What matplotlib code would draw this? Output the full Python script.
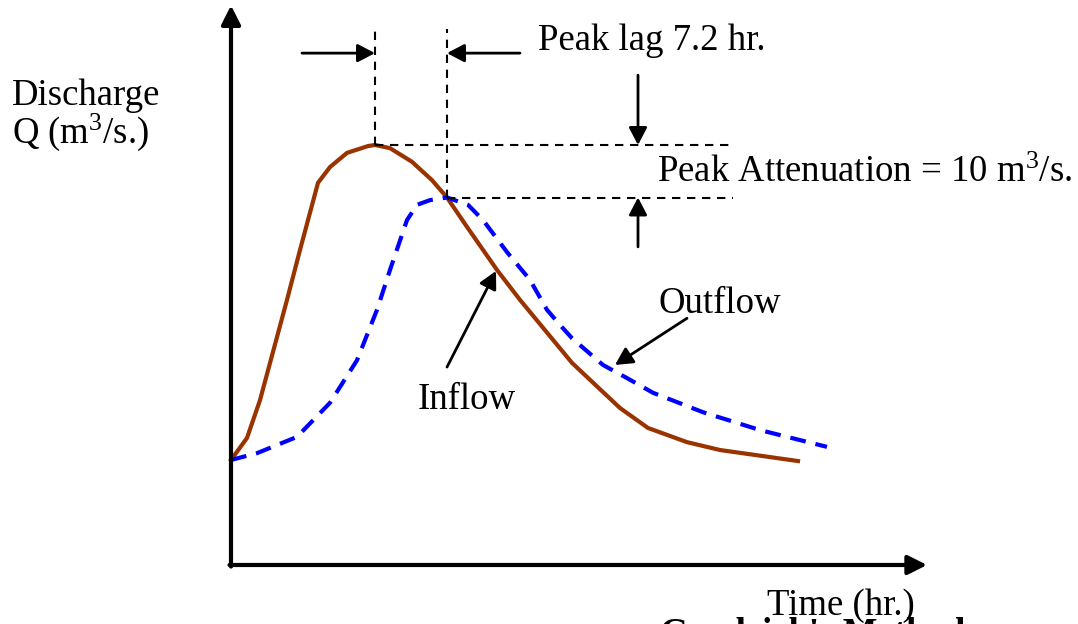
import numpy as np
import matplotlib
matplotlib.use("Agg")
import matplotlib.pyplot as plt

plt.rcParams["font.family"] = ["Liberation Serif", "DejaVu Serif"]
plt.rcParams["mathtext.fontset"] = "custom"
plt.rcParams["mathtext.rm"] = "Liberation Serif"
plt.rcParams["mathtext.it"] = "Liberation Serif:italic"

# hydrographs: time in hr, discharge in m3/s
inflow_t = [0, 1.6, 2.9, 4.2, 5.6, 6.9, 8.7, 9.9, 11.6, 13.7, 14.4, 15.9, 18.1,
            20.1, 21.6, 23.6, 26.6, 28.9, 34.1, 38.9, 41.7, 45.6, 48.9, 56.7]
inflow_q = [20, 24.2, 31.4, 40.6, 50.5, 60.0, 72.8, 75.8, 78.5, 79.8, 80, 79.4, 76.8,
            73.3, 70, 64.4, 56.2, 50.5, 38.5, 29.9, 26.1, 23.4, 21.9, 19.8]

outflow_t = [0, 2.6, 6.6, 9.9, 12.6, 14.6, 15.9, 17.6, 18.6, 19.9, 21.6, 23.7, 25.2,
             27.6, 29.9, 31.6, 33.1, 34.1, 37.2, 39.6, 42.2, 47.2, 52.9, 59.6]
outflow_q = [20, 21.3, 24.4, 30.9, 39.0, 48.6, 56.2, 65.7, 68.6, 69.5, 70, 68.6, 65.7,
             59.6, 54.3, 48.6, 45.3, 43.2, 38.1, 35.6, 32.8, 29.1, 25.7, 22.5]

# peaks
i_in = int(np.argmax(inflow_q))
i_out = int(np.argmax(outflow_q))
tp_in, qp_in = inflow_t[i_in], inflow_q[i_in]
tp_out, qp_out = outflow_t[i_out], outflow_q[i_out]
lag = tp_out - tp_in
atten = qp_in - qp_out

FS = 26.5
brown = "#993300"
blue = "#0000ff"

fig = plt.figure(figsize=[10.78, 6.24], dpi=100)
ax = fig.add_axes([0, 0, 1, 1])
ax.set_xlim(-23.1, 84.7)
ax.set_ylim(-11.24, 107.62)
ax.axis("off")

def arrow(tip, tail, lw=2.0, hl=10.5, hw=5.5):
    ax.annotate("", xy=tip, xytext=tail,
                arrowprops=dict(arrowstyle=f"-|>,head_length={hl},head_width={hw}",
                                mutation_scale=1, lw=lw, color="black",
                                shrinkA=0, shrinkB=0))

# axes with arrow heads
arrow((0, 106.6), (0, -0.3), lw=3, hl=11.5, hw=5.8)
arrow((69.6, 0), (-0.15, 0), lw=3, hl=11.5, hw=5.8)

# curves
ax.plot(inflow_t, inflow_q, color=brown, lw=3, solid_joinstyle="miter")
ax.plot(outflow_t, outflow_q, color=blue, lw=3, linestyle=(0, (3.8, 2.4)),
        dash_capstyle="butt")

# guide lines at the peaks
guide = dict(color="black", lw=1.5, linestyle=(0, (4, 3.2)))
ax.plot([tp_in, tp_in], [qp_in, 101.9], **guide)
ax.plot([tp_out, tp_out], [qp_out, 102.1], **guide)
ax.plot([tp_in, 50.2], [qp_in, qp_in], **guide)
ax.plot([tp_out, 50.2], [qp_out, qp_out], **guide)

# lag arrows
arrow((tp_in, 97.5), (7.1, 97.5))
arrow((tp_out, 97.5), (28.9, 97.5))
ax.text(30.7, 98.1, f"Peak lag {lag:.1f} hr.", fontsize=FS, va="baseline")

# attenuation arrows
arrow((40.7, qp_in), (40.7, 93.3))
arrow((40.7, qp_out), (40.7, 60.6))
ax.text(42.6, 72.95, f"Peak Attenuation = {atten:.0f} m$^3$/s.", fontsize=FS,
        va="baseline")

# curve labels
arrow((26.5, 56.0), (21.6, 37.7))
ax.text(18.7, 29.7, "Inflow", fontsize=FS, va="baseline")
arrow((38.4, 38.1), (45.6, 47.0))
ax.text(42.7, 48.0, "Outflow", fontsize=FS, va="baseline")

# axis titles
ax.text(-21.9, 87.6, "Discharge", fontsize=FS, va="baseline")
ax.text(-21.9, 80.4, "Q (m$^3$/s.)", fontsize=FS, va="baseline")
ax.text(53.6, -9.5, "Time (hr.)", fontsize=FS, va="baseline")
ax.text(42.9, -15.0, "Goodrich's Method", fontsize=FS, fontweight="bold",
        va="baseline")

fig.savefig("out.png", dpi=100)
